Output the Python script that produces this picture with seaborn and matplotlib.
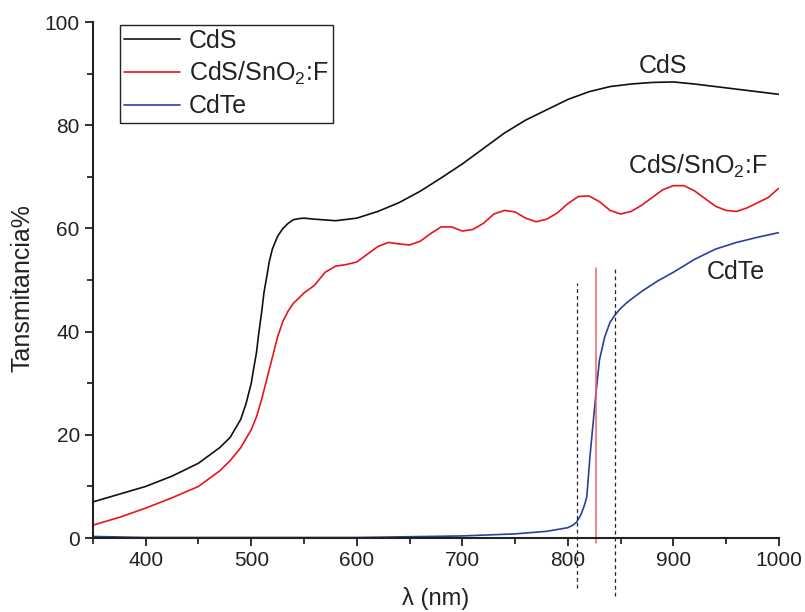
import matplotlib
matplotlib.use("Agg")
import matplotlib.pyplot as plt
import seaborn as sns
import pandas as pd
from matplotlib.ticker import MultipleLocator

# --- data ---
cds_wl = [350, 375, 400, 425, 450, 470, 480, 490, 495, 500, 502, 505, 507, 510, 512, 515, 517, 520,
          525, 530, 535, 540, 545, 550, 560, 580, 600, 620, 640, 660, 680, 700, 720, 740, 760, 780,
          800, 820, 840, 860, 880, 900, 920, 940, 960, 980, 1000]
cds_t = [7.0, 8.5, 10.0, 12.0, 14.5, 17.5, 19.5, 23.0, 26.0, 30.0, 32.5, 36.0, 39.5, 44.0, 47.5, 51.0, 53.5, 56.0,
         58.5, 60.0, 61.0, 61.7, 61.9, 62.0, 61.8, 61.5, 62.0, 63.3, 65.0, 67.2, 69.8, 72.5, 75.5, 78.5, 81.0, 83.0,
         85.0, 86.5, 87.5, 88.0, 88.3, 88.4, 88.0, 87.5, 87.0, 86.5, 86.0]

fto_wl = [350, 375, 400, 425, 450, 470, 480, 490, 500, 505, 510, 515, 520, 525, 530, 535, 540, 550,
          560, 570, 580, 590, 600, 610, 620, 630, 640, 650, 660, 670, 680, 690, 700, 710, 720, 730,
          740, 750, 760, 770, 780, 790, 800, 810, 820, 830, 840, 850, 860, 870, 880, 890, 900, 910,
          920, 930, 940, 950, 960, 970, 980, 990, 1000]
fto_t = [2.5, 4.0, 5.8, 7.8, 10.0, 13.0, 15.0, 17.5, 21.0, 23.5, 27.0, 31.0, 35.0, 39.0, 42.0, 44.0, 45.5, 47.5,
         49.0, 51.5, 52.7, 53.0, 53.5, 55.0, 56.5, 57.3, 57.0, 56.8, 57.5, 59.0, 60.3, 60.3, 59.5, 59.8, 61.0, 62.8,
         63.5, 63.2, 62.0, 61.3, 61.8, 63.0, 64.8, 66.2, 66.3, 65.2, 63.5, 62.8, 63.3, 64.5, 66.0, 67.5, 68.3, 68.3,
         67.3, 65.8, 64.3, 63.5, 63.3, 64.0, 65.0, 66.0, 67.8]

cdte_wl = [350, 400, 500, 600, 700, 750, 780, 800, 805, 808, 811, 813, 816, 818, 821, 824, 827,
           830, 835, 840, 845, 850, 857, 870, 885, 900, 920, 940, 960, 980, 1000]
cdte_t = [0.3, 0.1, 0.1, 0.1, 0.4, 0.8, 1.3, 2.0, 2.5, 3.0, 4.0, 4.8, 6.5, 8.0, 15.8, 22.3, 28.7,
          34.5, 39.0, 41.8, 43.3, 44.5, 45.8, 47.8, 49.8, 51.5, 54.0, 56.0, 57.3, 58.3, 59.2]

series_names = ["CdS", "CdS/SnO$_2$:F", "CdTe"]
series_colors = ["#111111", "#e8141c", "#2b3f9e"]

# annotation lines (nm) and their vertical extents (% units)
edge_dashed = [808.5, 844.5]
edge_dashed_span = [(-9.7, 49.4), (-11.2, 52.3)]
edge_center = 826.5
edge_center_span = (-1.0, 52.3)

df = pd.concat([
    pd.DataFrame({"wl": cds_wl, "T": cds_t, "sample": series_names[0]}),
    pd.DataFrame({"wl": fto_wl, "T": fto_t, "sample": series_names[1]}),
    pd.DataFrame({"wl": cdte_wl, "T": cdte_t, "sample": series_names[2]}),
])

sns.set_style("ticks")
plt.rcParams["font.family"] = ["Liberation Sans", "DejaVu Sans"]
plt.rcParams["mathtext.fontset"] = "custom"
plt.rcParams["mathtext.rm"] = "Liberation Sans"

fig = plt.figure(figsize=(8.05, 6.12), dpi=100)
ax = fig.add_axes([0.1155, 0.1209, 0.852, 0.843])

sns.lineplot(data=df, x="wl", y="T", hue="sample", palette=dict(zip(series_names, series_colors)),
             hue_order=series_names, linewidth=1.2, ax=ax, sort=True, estimator=None)

for x, (y0, y1) in zip(edge_dashed, edge_dashed_span):
    ax.plot([x, x], [y0, y1], color="#222222", linestyle=(0, (3, 2.5)), linewidth=0.9, clip_on=False)
ax.plot([edge_center, edge_center], list(edge_center_span), color="#f0606a", linewidth=1.1, clip_on=False)

ax.set_xlim(350, 1000)
ax.set_ylim(0, 100)
ax.xaxis.set_major_locator(MultipleLocator(100))
ax.xaxis.set_minor_locator(MultipleLocator(50))
ax.yaxis.set_major_locator(MultipleLocator(20))
ax.yaxis.set_minor_locator(MultipleLocator(10))
ax.set_xticks([400, 500, 600, 700, 800, 900, 1000])
ax.tick_params(which="major", direction="out", length=6, width=1.3, labelsize=15, colors="#222222")
ax.tick_params(which="minor", direction="out", length=4, width=1.3)
for s in ["left", "bottom"]:
    ax.spines[s].set_linewidth(1.5)
    ax.spines[s].set_color("#222222")
sns.despine(ax=ax)

ax.set_xlabel("λ (nm)", fontsize=17, labelpad=12, color="#222222")
ax.set_ylabel("Tansmitancia%", fontsize=18, color="#222222")
ax.yaxis.set_label_coords(-0.085, 0.485)

ax.text(890, 91.5, "CdS", fontsize=18, ha="center", va="center", color="#222222")
ax.text(923, 72.0, "CdS/SnO$_2$:F", fontsize=18, ha="center", va="center", color="#222222")
ax.text(959, 51.5, "CdTe", fontsize=18, ha="center", va="center", color="#222222")

leg = ax.legend(loc="upper left", bbox_to_anchor=(0.039, 0.995), fontsize=18, frameon=True,
                fancybox=False, handlelength=2.25, borderpad=0.18, labelspacing=0.28,
                handletextpad=0.35, borderaxespad=0)
leg.get_frame().set_edgecolor("#222222")
leg.get_frame().set_linewidth(1.0)
leg.get_frame().set_alpha(1)
for t in leg.get_texts():
    t.set_color("#222222")

fig.savefig("out.png", dpi=100)
